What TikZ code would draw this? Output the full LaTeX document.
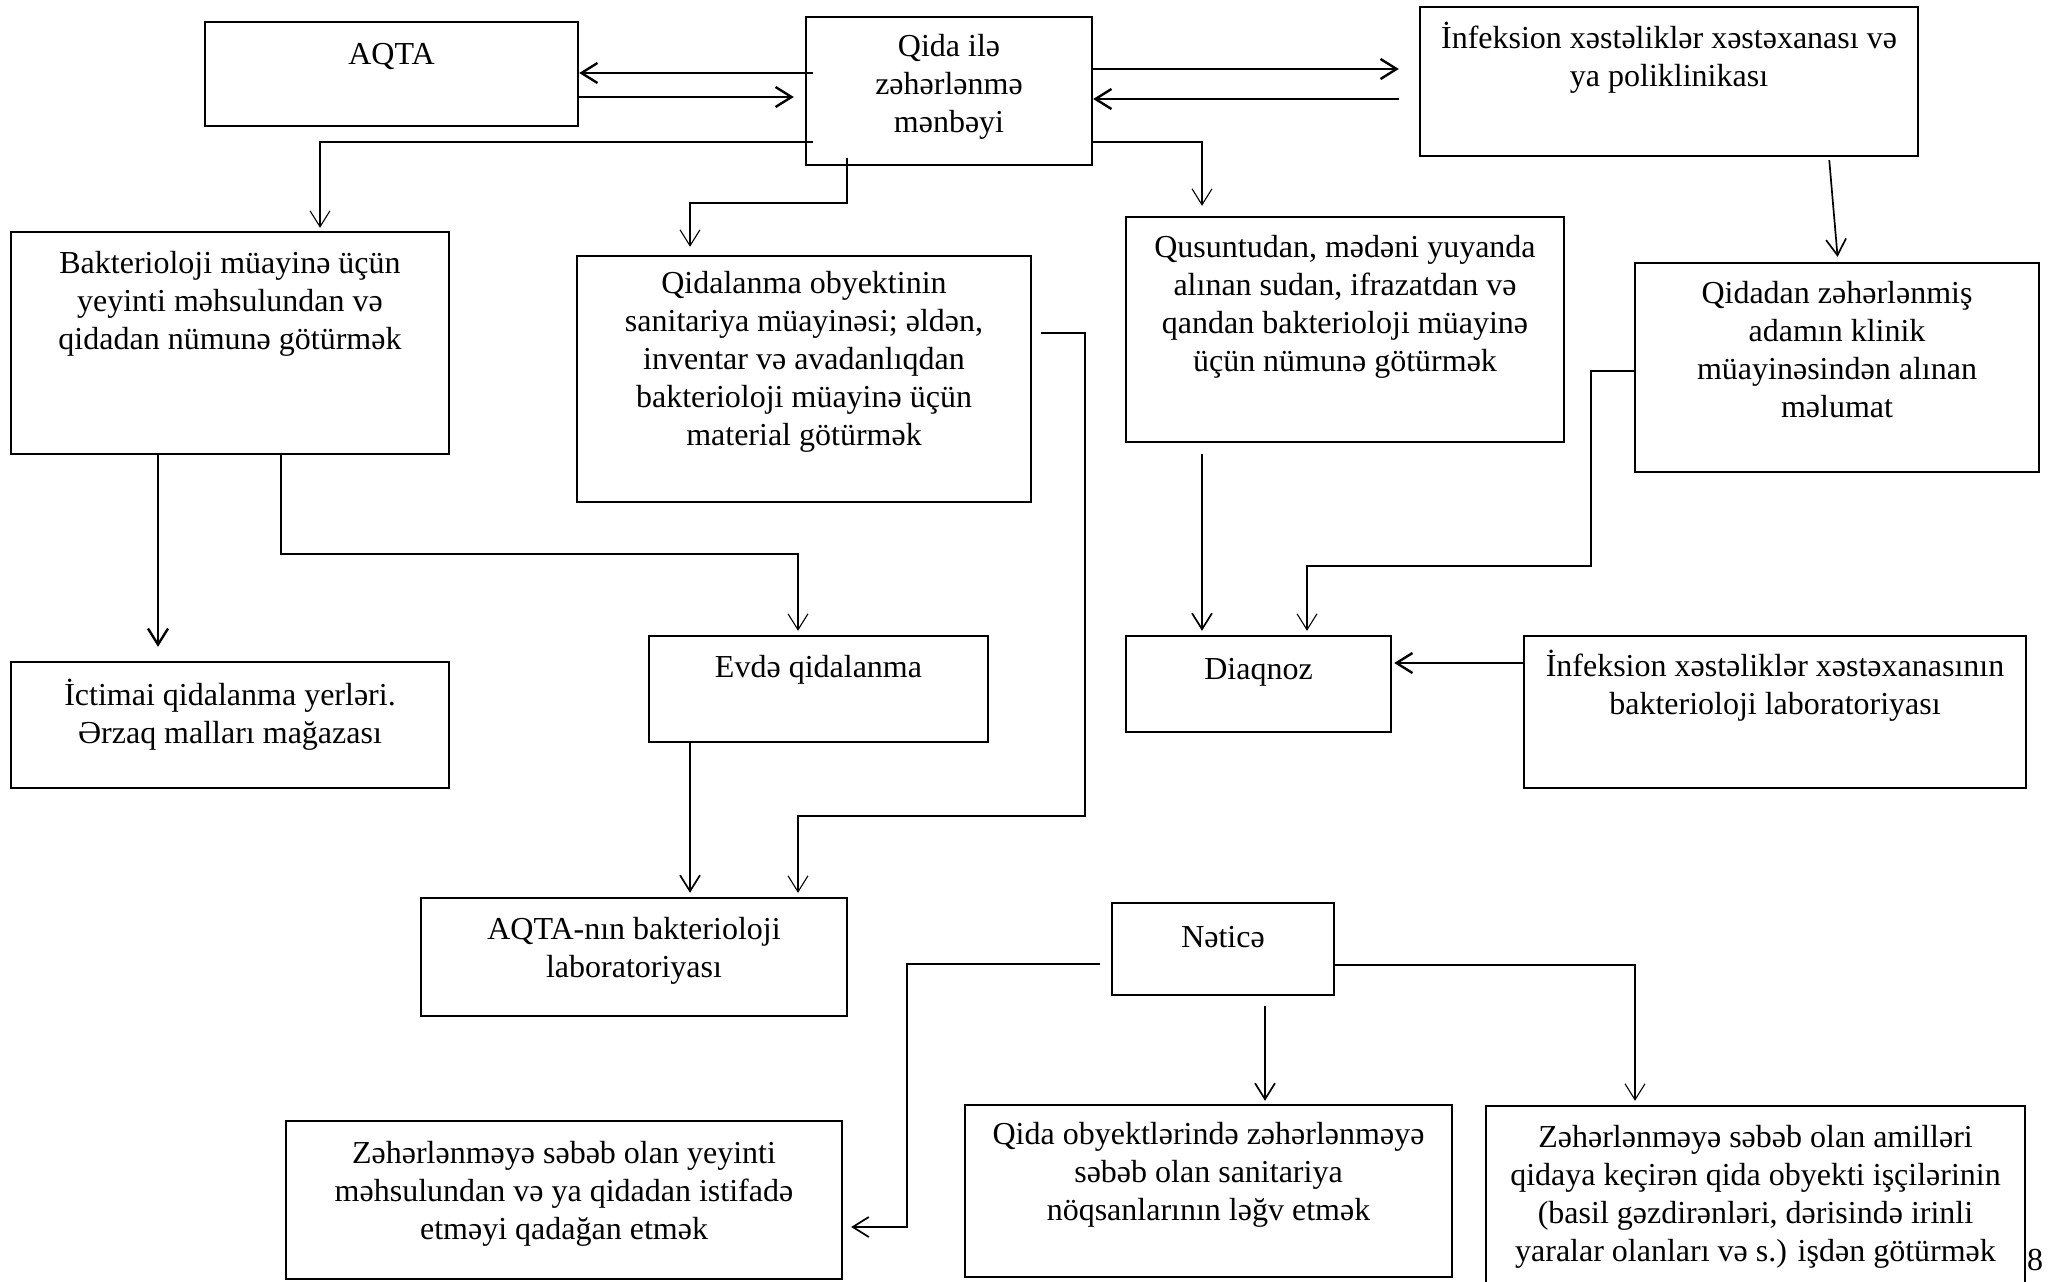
\documentclass[tikz,border=0pt]{standalone}
\usepackage{fontspec}
\setmainfont{Liberation Serif}
\usetikzlibrary{arrows.meta}
\begin{document}
\begin{tikzpicture}[x=1pt,y=-1pt,
  >={Straight Barb[length=16pt,width=20pt]},
  box/.style={draw,rectangle,line width=2.4pt,inner sep=0pt},
  txt/.style={anchor=north,align=center,inner sep=0pt,
     font=\fontsize{32}{38}\selectfont,execute at begin node=\strut},
  thk/.style={line width=2.4pt},
  mid/.style={line width=1.7pt},
  thn/.style={line width=1.1pt}]
\useasboundingbox (0,0) rectangle (2053,1282);
% boxes
\node[box,minimum width=373pt,minimum height=104pt] (aqta) at (391.5,74) {};
\node[box,minimum width=286pt,minimum height=148pt] (src) at (949,91) {};
\node[box,minimum width=498pt,minimum height=149pt] (inf) at (1669,81.5) {};
\node[box,minimum width=438pt,minimum height=222pt] (bakt) at (230,343) {};
\node[box,minimum width=454pt,minimum height=246pt] (qidal) at (804,379) {};
\node[box,minimum width=438pt,minimum height=225pt] (qus) at (1345,329.5) {};
\node[box,minimum width=404pt,minimum height=209pt] (qidadan) at (1837,367.5) {};
\node[box,minimum width=438pt,minimum height=126pt] (ict) at (230,725) {};
\node[box,minimum width=339pt,minimum height=106pt] (evde) at (818.5,689) {};
\node[box,minimum width=265pt,minimum height=96pt] (diaq) at (1258.5,684) {};
\node[box,minimum width=502pt,minimum height=152pt] (inflab) at (1775,712) {};
\node[box,minimum width=426pt,minimum height=118pt] (aqtalab) at (634,957) {};
\node[box,minimum width=222pt,minimum height=92pt] (netice) at (1223,949) {};
\node[box,minimum width=556pt,minimum height=158pt] (qadagan) at (564,1200) {};
\node[box,minimum width=487pt,minimum height=172pt] (sanit) at (1208.5,1191) {};
\node[box,minimum width=539pt,minimum height=194pt] (isci) at (1755.5,1203) {};
% texts
\node[txt] (aqta-t) at (391.5,38) {AQTA};
\node[txt] (src-t) at (949,34) {Qida ilə\\zəhərlənmə\\mənbəyi};
\node[txt] (inf-t) at (1669,22) {İnfeksion xəstəliklər xəstəxanası və\\ya poliklinikası};
\node[txt] (bakt-t) at (230,251) {Bakterioloji müayinə üçün\\yeyinti məhsulundan və\\qidadan nümunə götürmək};
\node[txt] (qidal-t) at (804,271) {Qidalanma obyektinin\\sanitariya müayinəsi; əldən,\\inventar və avadanlıqdan\\bakterioloji müayinə üçün\\material götürmək};
\node[txt] (qus-t) at (1345,235) {Qusuntudan, mədəni yuyanda\\alınan sudan, ifrazatdan və\\qandan bakterioloji müayinə\\üçün nümunə götürmək};
\node[txt] (qidadan-t) at (1837,281) {Qidadan zəhərlənmiş\\adamın klinik\\müayinəsindən alınan\\məlumat};
\node[txt] (ict-t) at (230,679) {İctimai qidalanma yerləri.\\Ərzaq malları mağazası};
\node[txt] (evde-t) at (818.5,651) {Evdə qidalanma};
\node[txt] (diaq-t) at (1258.5,653) {Diaqnoz};
\node[txt] (inflab-t) at (1775,650) {İnfeksion xəstəliklər xəstəxanasının\\bakterioloji laboratoriyası};
\node[txt] (aqtalab-t) at (634,917) {AQTA-nın bakterioloji\\laboratoriyası};
\node[txt] (netice-t) at (1223,921) {Nəticə};
\node[txt] (qadagan-t) at (564,1141) {Zəhərlənməyə səbəb olan yeyinti\\məhsulundan və ya qidadan istifadə\\etməyi qadağan etmək};
\node[txt] (sanit-t) at (1208.5,1122) {Qida obyektlərində zəhərlənməyə\\səbəb olan sanitariya\\nöqsanlarının ləğv etmək};
\node[txt] (isci-t) at (1755.5,1125) {Zəhərlənməyə səbəb olan amilləri\\qidaya keçirən qida obyekti işçilərinin\\(basil gəzdirənləri, dərisində irinli\\yaralar olanları və s.) işdən götürmək};
\node[inner sep=0pt,font=\fontsize{32}{38}\selectfont] (pg) at (2035,1260) {8};
% connectors
\draw[thk,->,shorten <=-8pt] (src.west |- 0,73) -- (aqta.east |- 0,73);
\draw[thk,->,shorten >=11pt] (aqta.east |- 0,97) -- (src.west |- 0,97);
\draw[thk,->,shorten >=20pt] (src.east |- 0,69) -- (inf.west |- 0,69);
\draw[thk,->,shorten <=20pt] (inf.west |- 0,99) -- (src.east |- 0,99);
\draw[thn,->,shorten <=-8pt,shorten >=3pt] (src.west |- 0,142) -| (320,0 |- bakt.north);
\draw[thn,->,shorten <=-8pt,shorten >=8pt] (847,0 |- src.south) -- (847,203) -| (690,0 |- qidal.north);
\draw[thn,->,shorten >=10pt] (src.east |- 0,142) -| (1202,0 |- qus.north);
\draw[mid,->,shorten <=3pt,shorten >=5pt] (1829,0 |- inf.south) -- (1838,0 |- qidadan.north);
\draw[thk,->,shorten >=14pt] (158,0 |- bakt.south) -- (158,0 |- ict.north);
\draw[thn,->,shorten >=4pt] (281,0 |- bakt.south) |- (798,554) -- (798,0 |- evde.north);
\draw[mid,->,shorten >=4pt] (690,0 |- evde.south) -- (690,0 |- aqtalab.north);
\draw[thn,->,shorten <=9pt,shorten >=4pt] (qidal.east |- 0,333) -| (1085,816) -| (798,0 |- aqtalab.north);
\draw[mid,->,shorten <=11pt,shorten >=4pt] (1202,0 |- qus.south) -- (1202,0 |- diaq.north);
\draw[thn,->,shorten >=4pt] (qidadan.west |- 0,371) -| (1591,566) -| (1307,0 |- diaq.north);
\draw[thk,->,shorten >=2pt] (inflab.west |- 0,663) -- (diaq.east |- 0,663);
\draw[mid,->,shorten <=11pt,shorten >=8pt] (netice.west |- 0,964) -| (907,1227) -- (qadagan.east |- 0,1227);
\draw[mid,->,shorten <=10pt,shorten >=3pt] (1265,0 |- netice.south) -- (1265,0 |- sanit.north);
\draw[thn,->,shorten >=4pt] (netice.east |- 0,965) -| (1635,0 |- isci.north);
\end{tikzpicture}
\end{document}
